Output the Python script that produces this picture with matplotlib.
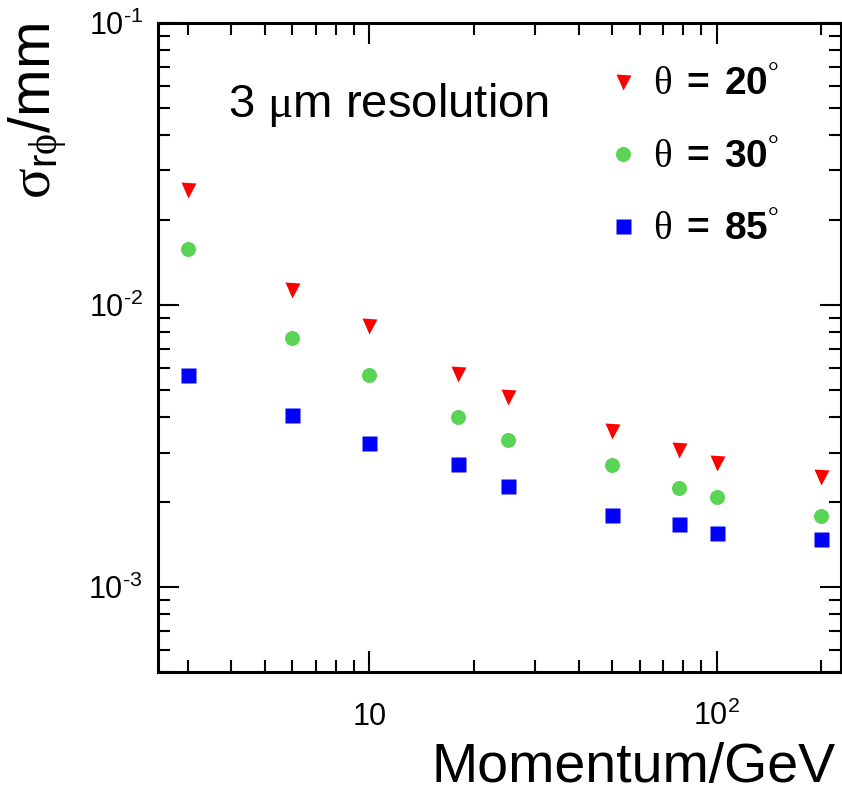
import numpy as np
import matplotlib
matplotlib.use('Agg')
import matplotlib.pyplot as plt
from matplotlib.ticker import FixedLocator, LogLocator, NullFormatter

plt.rcParams['font.family'] = ['Liberation Sans', 'DejaVu Sans']
plt.rcParams['mathtext.fontset'] = 'custom'
plt.rcParams['mathtext.rm'] = 'Liberation Serif'
plt.rcParams['mathtext.it'] = 'Liberation Serif:italic'
plt.rcParams['mathtext.bf'] = 'Liberation Sans:bold'
plt.rcParams['mathtext.sf'] = 'Liberation Sans'

# ---- data ----
momentum = [3, 6, 10, 18, 25, 50, 78, 100, 200]
sigma_theta20 = [0.02555, 0.01131, 0.00841, 0.00571, 0.00473, 0.00359, 0.00305, 0.00275, 0.00246]
sigma_theta30 = [0.01581, 0.00767, 0.00567, 0.00400, 0.00331, 0.00271, 0.00225, 0.00208, 0.00179]
sigma_theta85 = [0.00564, 0.00406, 0.00324, 0.00273, 0.00229, 0.00180, 0.00167, 0.00155, 0.00148]

series_labels = [r'$\mathrm{\theta}\ \mathbf{=\ 20}^{\mathrm{°}}$',
                 r'$\mathrm{\theta}\ \mathbf{=\ 30}^{\mathrm{°}}$',
                 r'$\mathrm{\theta}\ \mathbf{=\ 85}^{\mathrm{°}}$']
x_ticks = [10, 100]
x_tick_labels = [r'$\mathregular{10}$', r'$\mathregular{10^{2}}$']
y_ticks = [1e-3, 1e-2, 1e-1]
y_tick_labels = ['$\\mathregular{10^{\u2010' + e + '}}$' for e in ['3', '2', '1']]

fig = plt.figure(figsize=(8.42, 7.93), dpi=100)
fig.patch.set_facecolor('white')
ax = fig.add_axes([158 / 842, 1 - 672 / 793, (841 - 158) / 842, (672 - 23) / 793])

ms = 10.8
ax.plot(momentum, sigma_theta20, linestyle='none', marker='v', ms=ms, color='#ff0000', mec='none', label=series_labels[0])
ax.plot(momentum, sigma_theta30, linestyle='none', marker='o', ms=ms, color='#59d454', mec='none', label=series_labels[1])
ax.plot(momentum, sigma_theta85, linestyle='none', marker='s', ms=ms, color='#0000ff', mec='none', label=series_labels[2])

ax.set_xscale('log')
ax.set_yscale('log')
ax.set_xlim(2.46, 228)
ax.set_ylim(5e-4, 0.1)

ax.set_xticks(x_ticks, labels=x_tick_labels)
ax.xaxis.set_minor_locator(LogLocator(base=10, subs=np.arange(2, 10), numticks=20))
ax.xaxis.set_minor_formatter(NullFormatter())
ax.set_yticks(y_ticks, labels=y_tick_labels)
ax.yaxis.set_minor_locator(LogLocator(base=10, subs=np.arange(2, 10), numticks=20))
ax.yaxis.set_minor_formatter(NullFormatter())

for sp in ax.spines.values():
    sp.set_linewidth(2.2)
ax.tick_params(which='both', direction='in', top=True, right=True, width=1.5, colors='black')
ax.tick_params(which='major', length=15)
ax.tick_params(which='minor', length=8.5)
ax.tick_params(axis='y', which='major', labelsize=22, pad=11)
ax.tick_params(axis='x', which='major', labelsize=22, pad=38)
for lbl in ax.get_xticklabels():
    lbl.set_va('baseline')

ax.set_xlabel('Momentum/GeV', fontsize=40, loc='right')
ax.xaxis.set_label_coords(1 - 5 / 683, (672 - 742) / 649)
ax.set_ylabel(r'$\mathrm{\sigma}_{\mathregular{r}\mathrm{\phi}}$/mm', fontsize=41, loc='top')
ax.yaxis.set_label_coords((70 - 158) / 683, 1.0)

ax.text((228 - 158) / 683, (672 - 117) / 649, r'3 $\mathrm{\mu}$m resolution',
        transform=ax.transAxes, fontsize=34, ha='left', va='baseline')

leg = ax.legend(loc='upper left', bbox_to_anchor=((603.5 - 158) / 683, 1 - (67 - 23) / 649),
                frameon=False, fontsize=28, handlelength=1.0, handletextpad=0.27,
                borderpad=0, borderaxespad=0, labelspacing=0.93)

fig.savefig('out.png', dpi=100, facecolor='white')
